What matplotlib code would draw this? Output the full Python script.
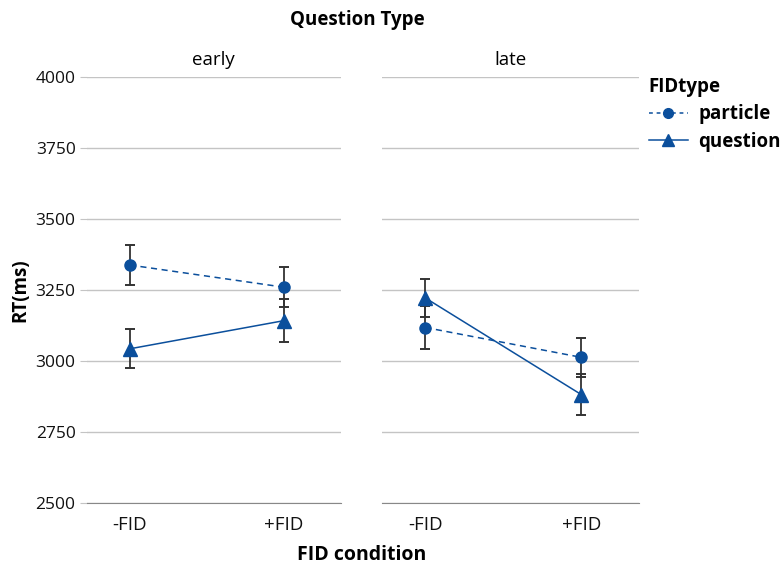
import numpy as np
import matplotlib
matplotlib.use('Agg')
import matplotlib.pyplot as plt
from matplotlib.lines import Line2D

plt.rcParams['font.family'] = ['Open Sans', 'DejaVu Sans']

# data
panels = ['early', 'late']
conditions = ['-FID', '+FID']
particle_mean = {'early': [3338, 3260], 'late': [3118, 3013]}
particle_err = {'early': [70, 70], 'late': [74, 68]}
question_mean = {'early': [3043, 3142], 'late': [3222, 2882]}
question_err = {'early': [68, 76], 'late': [67, 72]}
yticks = [2500, 2750, 3000, 3250, 3500, 3750, 4000]

blue = '#0b4f9c'
err_col = '#333333'
fs = 13.5

fig = plt.figure(figsize=(7.84, 5.65), dpi=100)
ax_boxes = [[0.1106, 0.1097, 0.324, 0.754], [0.4869, 0.1097, 0.328, 0.754]]

for i, name in enumerate(panels):
    ax = fig.add_axes(ax_boxes[i])
    x = np.arange(len(conditions))

    # error bars first so markers sit on top
    ax.errorbar(x, particle_mean[name], yerr=particle_err[name], fmt='none',
                ecolor=err_col, elinewidth=1.3, capsize=3.5, capthick=1.4, zorder=3)
    ax.errorbar(x, question_mean[name], yerr=question_err[name], fmt='none',
                ecolor=err_col, elinewidth=1.3, capsize=3.5, capthick=1.4, zorder=3)

    ax.plot(x, particle_mean[name], color=blue, linestyle=(0, (4, 3)), lw=1.1,
            marker='o', markersize=8, zorder=4)
    ax.plot(x, question_mean[name], color=blue, linestyle='-', lw=1.1,
            marker='^', markersize=10, zorder=4)

    ax.set_xlim(-0.28, 1.37)
    ax.set_ylim(2500, 4000)
    ax.set_yticks(yticks)
    ax.set_xticks(x)
    ax.set_xticklabels(conditions, fontsize=fs, color='#111111')
    ax.grid(axis='y', color='#c4c4c4', lw=1)
    ax.set_axisbelow(True)
    for s in ['top', 'right', 'left']:
        ax.spines[s].set_visible(False)
    ax.spines['bottom'].set_color('#888888')
    ax.tick_params(axis='x', length=0, pad=9)
    if i == 0:
        ax.tick_params(axis='y', length=5, color='#c4c4c4', labelsize=12.5,
                       labelcolor='#111111', pad=3)
        ax.set_ylabel('RT(ms)', fontsize=fs, fontweight='bold', labelpad=4)
    else:
        ax.tick_params(axis='y', length=0, labelleft=False)
    ax.set_title(name, fontsize=fs, pad=9)

fig.text(0.456, 0.965, 'Question Type', ha='center', va='center',
         fontsize=fs, fontweight='bold')
fig.text(0.461, 0.017, 'FID condition', ha='center', va='center',
         fontsize=fs + 0.5, fontweight='bold')

handles = [
    Line2D([], [], color=blue, linestyle=(0, (2.5, 2.5)), lw=1.1, marker='o', markersize=7),
    Line2D([], [], color=blue, linestyle='-', lw=1.1, marker='^', markersize=9),
]
leg = fig.legend(handles, ['particle', 'question'], title='FIDtype',
                 loc='upper left', bbox_to_anchor=(0.818, 0.877), frameon=False,
                 prop={'weight': 'bold', 'size': fs}, handlelength=2.1,
                 handletextpad=0.55, labelspacing=0.4, borderaxespad=0)
leg.get_title().set_fontweight('bold')
leg.get_title().set_fontsize(fs)
leg._legend_box.align = 'left'

fig.savefig('out.png', dpi=100)
